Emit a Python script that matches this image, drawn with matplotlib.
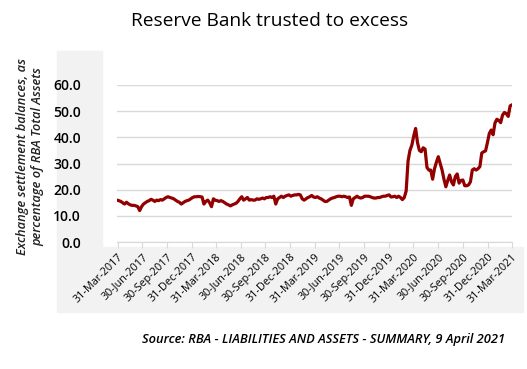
import matplotlib
matplotlib.use('Agg')
import matplotlib.pyplot as plt
import matplotlib.patches as patches
import pandas as pd

plt.rcParams['font.family'] = ['Open Sans', 'DejaVu Sans']

title = 'Reserve Bank trusted to excess'
y_label = 'Exchange settlement balances, as\npercentage of RBA Total Assets'
source = 'Source: RBA - LIABILITIES AND ASSETS - SUMMARY, 9 April 2021'

# weekly ES balances as % of total assets (Wednesdays from 29-Mar-2017)
values = [
    16.0, 15.8, 15.5, 15.0, 14.5, 15.2, 14.6, 14.2, 14.0, 14.0, 13.8, 13.5,
    12.0, 13.5, 14.5, 15.0, 15.5, 15.8, 16.3,
    16.0, 15.5, 16.0, 15.8, 16.2, 16.0, 16.5, 17.0, 17.3,
    17.0, 16.8, 16.5, 16.0, 15.5, 15.2, 14.5,
    15.0, 15.5, 15.8, 16.0, 16.5, 17.0, 17.3,
    17.3, 17.4, 17.3, 17.2,
    14.5, 15.5, 16.0, 15.0, 13.5, 16.5,
    16.0, 15.8, 15.5, 15.8, 15.5, 15.0, 14.5, 14.2, 13.8,
    14.2, 14.5, 14.8, 15.5, 16.5, 17.3,
    16.0, 16.5, 17.0, 16.0, 16.2, 16.0, 16.0, 16.5, 16.3, 16.5, 16.8, 16.5,
    17.0, 17.0, 17.3, 17.0, 17.5,
    14.5, 16.5, 17.0, 17.5, 17.0, 17.5, 17.8, 18.0, 17.5, 17.8, 18.0, 18.0,
    18.2, 18.0, 16.5, 16.0,
    16.5, 17.0, 17.3, 17.8, 17.2, 17.0, 17.3,
    16.8, 16.5, 16.0, 15.5, 15.5, 16.0, 16.5, 16.8, 17.0, 17.3,
    17.5, 17.5, 17.3, 17.5, 17.3, 17.0, 17.2, 14.0, 16.5,
    17.0, 17.5, 17.0, 16.8, 17.0, 17.5, 17.5, 17.5, 17.3,
    17.0, 16.8, 16.8, 17.0, 17.0, 17.3, 17.5, 17.5, 17.8, 18.0,
    17.2, 17.3, 17.5, 17.0, 17.5, 17.0,
    16.2, 17.0, 19.5, 31.0, 35.0, 37.0, 40.5, 43.4, 38.0, 35.0,
    34.5, 36.0, 35.5, 28.5, 27.5, 27.5, 24.0, 28.0, 30.5, 32.6,
    30.0, 27.5, 24.0, 21.1, 23.5, 25.6, 23.0, 21.8, 25.0, 26.0,
    22.5, 23.5, 23.7, 21.5, 21.5, 21.8, 23.0, 27.5, 28.0, 27.5,
    28.0, 28.8, 34.0, 34.5, 34.8, 38.0, 41.5, 42.8, 41.0, 45.5,
    46.9, 46.5, 45.6, 48.5, 49.5, 49.0, 48.0, 52.0, 52.4,
]
dates = pd.date_range('2017-03-29', periods=len(values), freq='7D')

tick_dates = pd.date_range('2017-03-31', '2021-03-31', freq='QE')
tick_labels = [d.strftime('%d-%b-%Y') for d in tick_dates]
y_ticks = [0, 10, 20, 30, 40, 50, 60]

W, H = 527, 369
fig = plt.figure(figsize=(W / 100, H / 100), dpi=100)

# light grey label panels behind the tick labels
fig.patches.append(patches.Rectangle((57 / W, 1 - 247 / H), 45 / W, 196 / H,
                                     transform=fig.transFigure, color='#f2f2f2', zorder=-5))
fig.patches.append(patches.Rectangle((57 / W, 1 - 312 / H), 466 / W, 65 / H,
                                     transform=fig.transFigure, color='#f2f2f2', zorder=-5))

ax = fig.add_axes([117 / W, 1 - 242 / H, 395 / W, 157 / H])
ax.set_zorder(2)
ax.patch.set_alpha(0)
ax.plot(dates, values, color='#920000', lw=2.3, solid_joinstyle='round', zorder=3)

ax.set_xlim(dates[0], pd.Timestamp('2021-03-31'))
ax.set_ylim(0, 60)
ax.set_yticks(y_ticks)
ax.set_yticklabels([f'{v:.1f}' for v in y_ticks], fontsize=10, fontweight='semibold')
ax.tick_params(axis='y', length=0, pad=26)
ax.grid(axis='y', color='#d9d9d9', lw=1)
ax.set_axisbelow(True)

ax.set_xticks(tick_dates)
ax.set_xticklabels(tick_labels, rotation=45, ha='right', rotation_mode='anchor', fontsize=7.8)
ax.tick_params(axis='x', length=4, color='#d9d9d9', pad=3)

for s in ['top', 'right', 'left']:
    ax.spines[s].set_visible(False)
ax.spines['bottom'].set_color('#d9d9d9')

fig.text(30 / W, 1 - 157 / H, y_label, rotation=90, ha='center', va='center',
         fontsize=9.3, style='italic', fontweight='semibold', color='#222222', linespacing=1.25)
fig.text(270 / W, 1 - 21 / H, title, ha='center', va='center', fontsize=13.8)
fig.text(505 / W, 1 - 339 / H, source, ha='right', va='center', fontsize=9.3,
         style='italic', fontweight='semibold')

fig.savefig('out.png', dpi=100)
